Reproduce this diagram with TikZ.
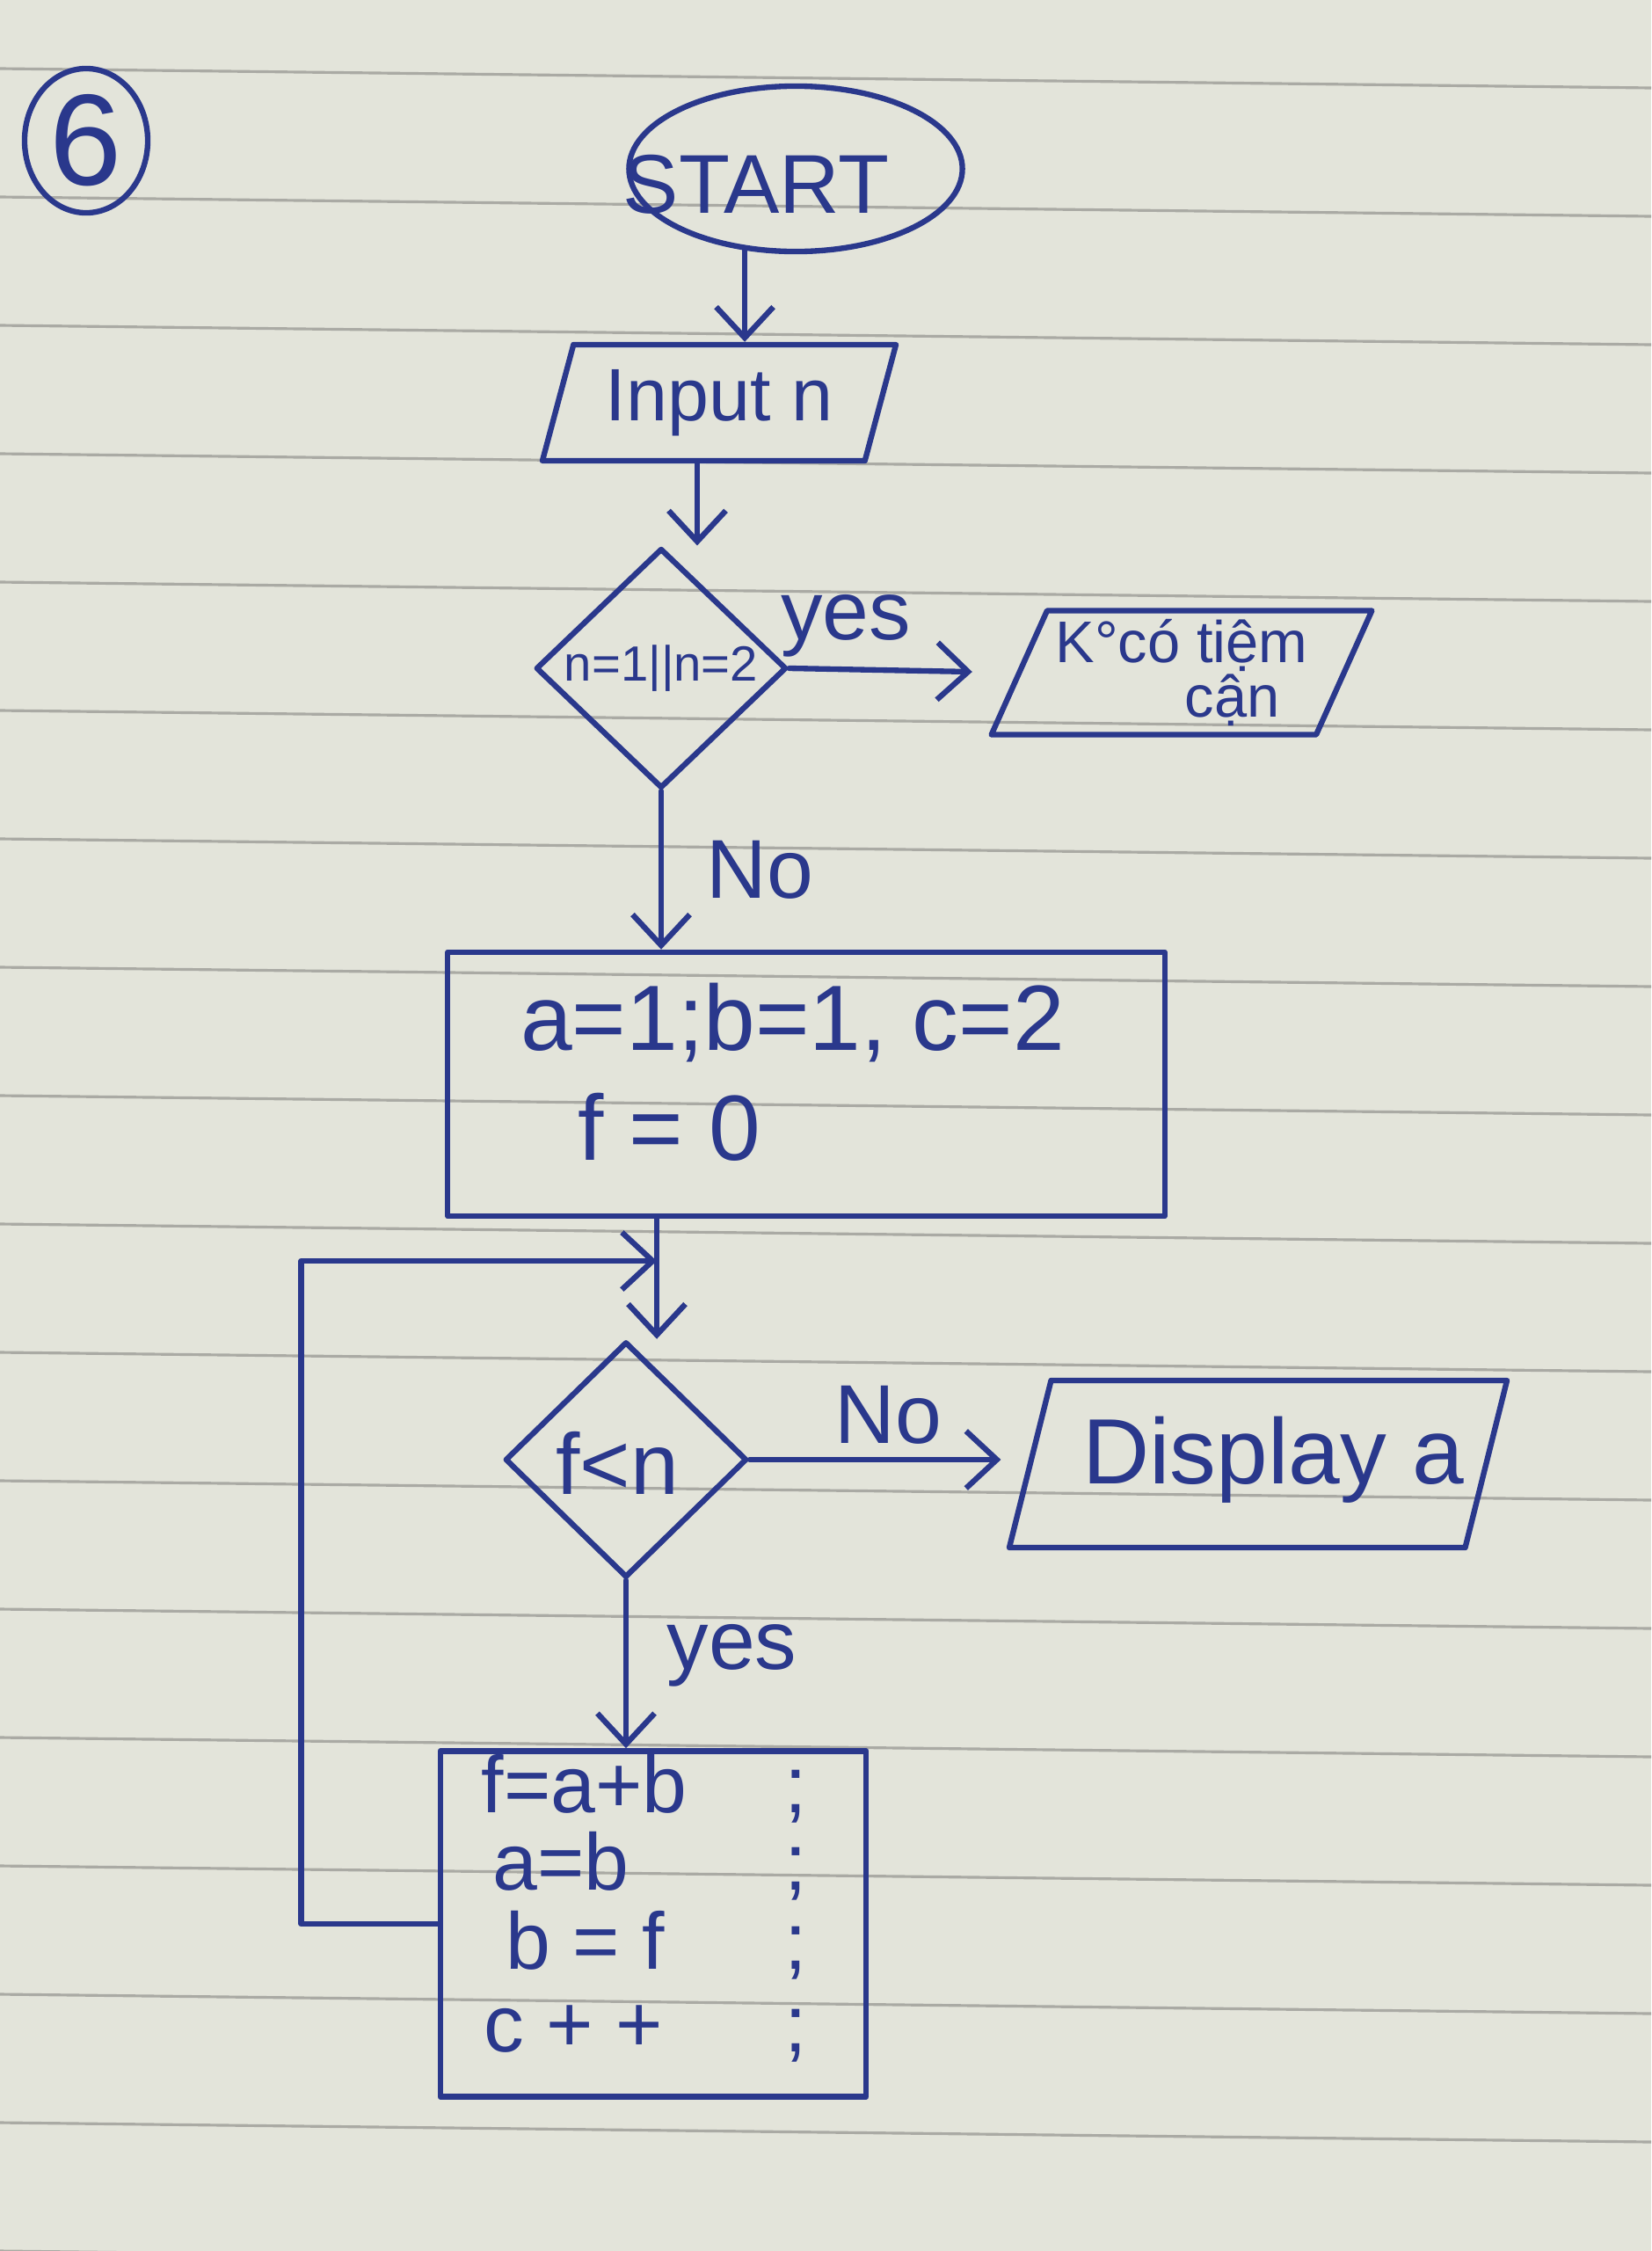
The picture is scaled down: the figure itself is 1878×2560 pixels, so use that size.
\documentclass[tikz,border=0pt]{standalone}
\usepackage{fontspec}
\setmainfont{Liberation Sans}
\usetikzlibrary{shapes.geometric,arrows.meta,calc}
\definecolor{ink}{RGB}{42,56,140}
\definecolor{paper}{RGB}{227,228,218}
\definecolor{ruling}{RGB}{170,170,164}
\begin{document}
\begin{tikzpicture}[x=0.01cm,y=-0.01cm,
  inkline/.style={draw=ink, line width=1.8pt, line join=round, line cap=round},
  hand/.style={text=ink, inner sep=1pt},
  terminal/.style={ellipse, inkline, minimum width=3.79cm, minimum height=1.88cm, inner sep=0pt},
  iobox/.style={trapezium, trapezium left angle=70, trapezium right angle=110, trapezium stretches=true, inkline, inner sep=0pt, text=ink},
  decision/.style={diamond, inkline, inner sep=0pt, text=ink},
  process/.style={rectangle, inkline, inner sep=0pt},
  arrow/.style={inkline, -{Straight Barb[length=3.5mm,width=6.5mm]}},
  codeline/.style={text=ink, inner sep=0pt, anchor=west, font=\fontsize{26}{28}\selectfont, text height=0.7em, text depth=0.02em},
  f16/.style={font=\fontsize{16}{18}\selectfont},
  f24/.style={font=\fontsize{24}{28}\selectfont},
  f27/.style={font=\fontsize{27}{30}\selectfont},
  f30/.style={font=\fontsize{30}{34}\selectfont}
]
% paper
\fill[paper] (0,0) rectangle (1878,2560);
\useasboundingbox (0,0) rectangle (1878,2560);
\foreach \k in {0,...,17} \draw[ruling, line width=0.9pt] (0,{78+146*\k}) -- (1878,{100+146*\k});

% nodes
\node[ellipse, inkline, minimum width=1.4cm, minimum height=1.64cm, inner sep=0pt, text=ink, font=\fontsize{42}{46}\selectfont] (six) at (98,160) {6};
\node[terminal] (start) at (905,192) {};
\node[hand, f27] (starttext) at (860,210) {START};
\node[iobox, minimum width=4.03cm, minimum height=1.32cm, f24] (input) at (818,458) {Input n};
\node[decision, minimum width=2.85cm, minimum height=2.6cm, f16] (d1) at (752,760) {n=1||n=2};
\node[iobox, trapezium left angle=64, trapezium right angle=116, minimum width=4.33cm, minimum height=1.41cm, align=left, font=\fontsize{19}{13}\selectfont] (nocm) at (1344,765) {K°có tiệm\\\hspace*{2.2em}cận};
\node[process, minimum width=8.15cm, minimum height=3.0cm] (abox) at (917,1233) {};
\node[hand, f30, anchor=west] (init1) at (588,1163) {a=1;b=1, c=2};
\node[hand, f30, anchor=west] (init2) at (653,1282) {f = 0};
\node[decision, minimum width=2.75cm, minimum height=2.68cm] (d2) at (712,1660) {};
\node[hand, font=\fontsize{28}{30}\selectfont] (d2text) at (702,1664) {f<n};
\node[iobox, trapezium left angle=66, trapezium right angle=114, minimum width=5.67cm, minimum height=1.9cm, font=\fontsize{30}{34}\selectfont] (disp) at (1431,1665) {\phantom{Display a}};
\node[hand, font=\fontsize{30}{34}\selectfont] (disptext) at (1448,1660) {Display a};
\node[process, minimum width=4.84cm, minimum height=3.93cm] (bbox) at (743,2188) {};
\node[codeline] (l1) at (547,2050) {\makebox[3.45cm][l]{f=a+b};};
\node[codeline] (l2) at (560,2138) {\makebox[3.32cm][l]{a=b};};
\node[codeline] (l3) at (575,2228) {\makebox[3.17cm][l]{b = f};};
\node[codeline] (l4) at (550,2322) {\makebox[3.42cm][l]{c + +};};

% connectors
\draw[arrow] (start.238) -- (start.238 |- input.north);
\draw[arrow] ([xshift=-0.25cm]input.south) -- ([xshift=-0.25cm]input.south |- d1.north);
\draw[arrow, shorten >=0.5cm] (d1.east) -- node[hand, f27, pos=0.25, above=2pt] (yes1) {yes} (nocm.west);
\draw[arrow] (d1.south) -- node[hand, f27, pos=0.5, right=0.45cm] (no1) {No} (d1.south |- abox.north);
\coordinate (d2in) at ([xshift=0.35cm]d2.north);
\coordinate (join) at ($(abox.south -| d2in)!0.35!(d2in)$);
\draw[arrow] (abox.south -| d2in) -- (d2in);
\draw[arrow] (bbox.west) -- ++(-1.55cm,0) |- (join);
\draw[arrow, shorten >=0.3cm] (d2.east) -- node[hand, f27, pos=0.5, above=3pt] (no2) {No} (d2.east -| disp.west);
\draw[arrow] (d2.south) -- node[hand, f27, pos=0.45, right=0.4cm] (yes2) {yes} (d2.south |- bbox.north);
\end{tikzpicture}
\end{document}
